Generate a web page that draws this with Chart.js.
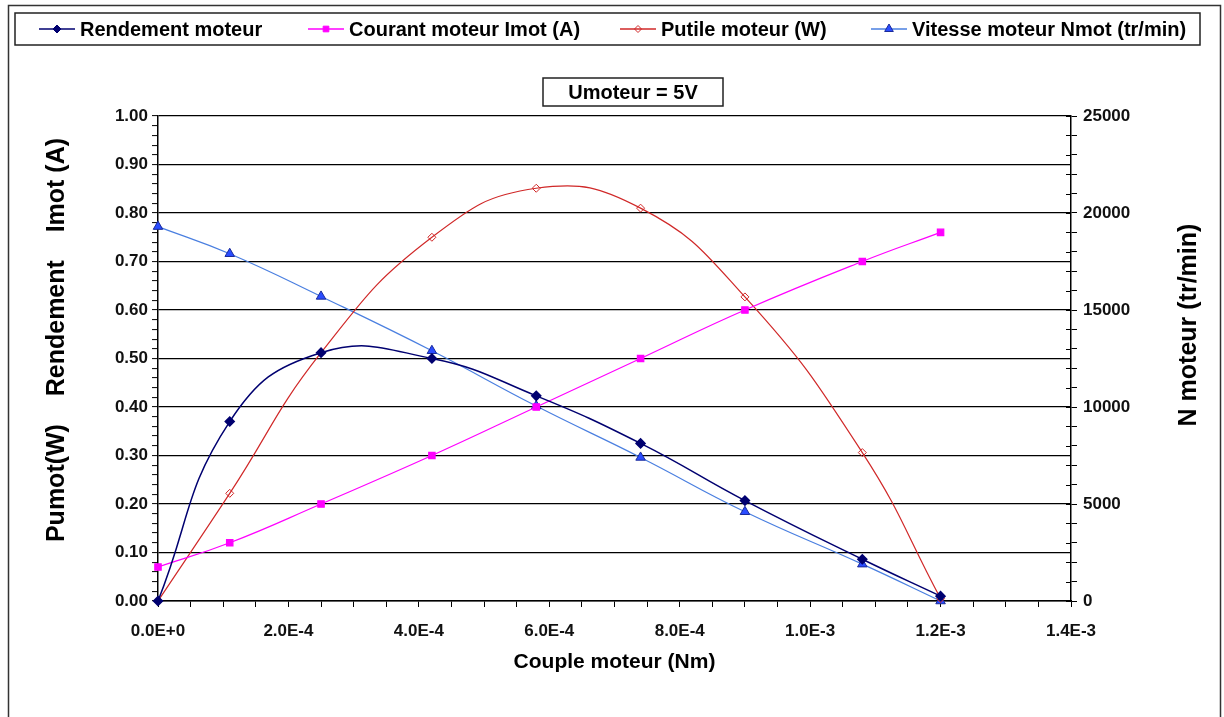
<!DOCTYPE html>
<html>
<head>
<meta charset="utf-8">
<script src="https://cdn.jsdelivr.net/npm/chart.js@4/dist/chart.umd.min.js"></script>
<style>
  html, body { margin: 0; padding: 0; background: #fff; }
  #wrap { position: relative; width: 1224px; height: 717px; }
</style>
</head>
<body>
<div id="wrap"><canvas id="moteurChart" width="1224" height="717"></canvas></div>
<script>
// couple moteur (Nm)
const couple = [0, 1.1e-4, 2.5e-4, 4.2e-4, 5.8e-4, 7.4e-4, 9.0e-4, 1.08e-3, 1.2e-3];
const rendement = [0, 0.37, 0.512, 0.50, 0.423, 0.325, 0.207, 0.086, 0.01];
const courant = [0.07, 0.12, 0.20, 0.30, 0.40, 0.50, 0.60, 0.70, 0.76];
const putile = [0, 0.222, 0.512, 0.75, 0.851, 0.81, 0.627, 0.306, 0.005];
const vitesse = [19300, 17900, 15700, 12900, 10050, 7400, 4600, 1900, 0];

const seriesNames = ['Rendement moteur', 'Courant moteur Imot (A)', 'Putile moteur (W)', 'Vitesse moteur Nmot (tr/min)'];
const chartTitle = 'Umoteur = 5V';
const xTitle = 'Couple moteur (Nm)';
const yLeftTitle = 'Pumot(W)    Rendement    Imot (A)';
const yRightTitle = 'N moteur (tr/min)';

const FONT = '"Liberation Sans", Arial, sans-serif';

function pts(ys) {
    return couple.map((x, i) => ({ x: x, y: ys[i] }));
}

// frame, legend box, title box, rotated axis titles, inner ticks of right axis
const decorPlugin = {
    id: 'decor',
    afterDraw(chart) {
        const ctx = chart.ctx;
        ctx.save();

        // outer frame
        ctx.strokeStyle = '#333';
        ctx.lineWidth = 1.5;
        ctx.strokeRect(8.5, 5.5, 1212, 740);

        // right axis ticks also go inside
        const r = chart.scales.y1;
        ctx.strokeStyle = '#000';
        ctx.lineWidth = 1;
        r.ticks.forEach((t) => {
            const py = Math.round(r.getPixelForValue(t.value)) + 0.5;
            ctx.beginPath();
            ctx.moveTo(r.left - 5, py);
            ctx.lineTo(r.left, py);
            ctx.stroke();
        });

        // legend box
        ctx.strokeStyle = '#222';
        ctx.lineWidth = 1.5;
        ctx.strokeRect(15, 13, 1185, 32);

        const slots = [39, 308, 620, 871];
        ctx.font = 'bold 20px ' + FONT;
        ctx.textBaseline = 'middle';
        ctx.textAlign = 'left';
        chart.data.datasets.forEach((ds, i) => {
            const x0 = slots[i];
            const y = 29;
            ctx.strokeStyle = ds.borderColor;
            ctx.lineWidth = 1.3;
            ctx.beginPath();
            ctx.moveTo(x0, y);
            ctx.lineTo(x0 + 36, y);
            ctx.stroke();
            ctx.fillStyle = ds.pointBackgroundColor;
            ctx.strokeStyle = ds.pointBorderColor;
            ctx.lineWidth = 1;
            Chart.helpers.drawPoint(ctx, {
                pointStyle: ds.pointStyle,
                radius: ds.pointRadius - 0.5,
                rotation: 0,
                borderWidth: 1
            }, x0 + 18, y);
            ctx.fillStyle = '#000';
            ctx.fillText(ds.label, x0 + 41, y + 1);
        });

        // title box
        ctx.strokeStyle = '#222';
        ctx.lineWidth = 1.5;
        ctx.strokeRect(543, 78, 180, 28);
        ctx.fillStyle = '#000';
        ctx.textAlign = 'center';
        ctx.font = 'bold 20px ' + FONT;
        ctx.fillText(chartTitle, 633, 93);

        // vertical axis titles
        ctx.font = 'bold 25px ' + FONT;
        ctx.save();
        ctx.translate(57, 340);
        ctx.rotate(-Math.PI / 2);
        ctx.fillText(yLeftTitle, 0, 0);
        ctx.restore();

        ctx.save();
        ctx.translate(1189, 325);
        ctx.rotate(-Math.PI / 2);
        ctx.fillText(yRightTitle, 0, 0);
        ctx.restore();

        ctx.restore();
    }
};

const tickFont = { family: FONT, size: 17, weight: 'bold' };

new Chart(document.getElementById('moteurChart'), {
    type: 'line',
    data: {
        datasets: [
            {
                label: seriesNames[0],
                data: pts(rendement),
                yAxisID: 'y',
                borderColor: '#000070',
                borderWidth: 1.5,
                pointStyle: 'rectRot',
                pointRadius: 4.5,
                pointBackgroundColor: '#000070',
                pointBorderColor: '#000070',
                tension: 0.45
            },
            {
                label: seriesNames[1],
                data: pts(courant),
                yAxisID: 'y',
                borderColor: '#FF00FF',
                borderWidth: 1.2,
                pointStyle: 'rect',
                pointRadius: 4.5,
                pointBackgroundColor: '#FF00FF',
                pointBorderColor: '#FF00FF',
                tension: 0.45
            },
            {
                label: seriesNames[2],
                data: pts(putile),
                yAxisID: 'y',
                borderColor: '#D02828',
                borderWidth: 1.2,
                pointStyle: 'rectRot',
                pointRadius: 4,
                pointBackgroundColor: 'rgba(255,255,255,0)',
                pointBorderColor: '#D02828',
                pointBorderWidth: 1,
                tension: 0.45
            },
            {
                label: seriesNames[3],
                data: pts(vitesse),
                yAxisID: 'y1',
                borderColor: '#4A7FE0',
                borderWidth: 1.2,
                pointStyle: 'triangle',
                pointRadius: 5.5,
                pointBackgroundColor: '#2a4cff',
                pointBorderColor: '#1A2A9A',
                pointBorderWidth: 1,
                tension: 0.45
            }
        ]
    },
    options: {
        responsive: false,
        devicePixelRatio: 1,
        animation: false,
        clip: false,
        layout: { padding: { top: 116, left: 0, right: 0, bottom: 0 } },
        plugins: {
            legend: { display: false },
            tooltip: { enabled: false }
        },
        scales: {
            x: {
                type: 'linear',
                position: 'bottom',
                min: 0,
                max: 0.0014,
                afterFit: (s) => { s.height = 116; },
                border: { color: '#000', width: 1.5 },
                grid: {
                    drawOnChartArea: false,
                    tickLength: 6,
                    tickColor: '#000'
                },
                ticks: {
                    stepSize: 0.00005,
                    autoSkip: false,
                    maxRotation: 0,
                    padding: 14,
                    color: '#111',
                    font: tickFont,
                    callback: (v) => Math.round(v / 0.00005) % 4 === 0 ? v.toExponential(1).toUpperCase() : ''
                },
                title: {
                    display: true,
                    text: xTitle,
                    color: '#000',
                    font: { family: FONT, size: 21, weight: 'bold' },
                    padding: { top: 0, bottom: 42 }
                }
            },
            y: {
                type: 'linear',
                position: 'left',
                min: 0,
                max: 1,
                afterFit: (s) => { s.width = 158; },
                border: { color: '#000', width: 1.5 },
                grid: {
                    color: (c) => Math.round(c.tick.value * 100) % 10 === 0 ? '#000' : 'rgba(0,0,0,0)',
                    lineWidth: 1.2,
                    tickLength: 6,
                    tickColor: '#000',
                    tickWidth: 1
                },
                ticks: {
                    stepSize: 0.02,
                    autoSkip: false,
                    padding: 4,
                    color: '#111',
                    font: tickFont,
                    callback: (v) => Math.round(v * 100) % 10 === 0 ? v.toFixed(2) : ''
                }
            },
            y1: {
                type: 'linear',
                position: 'right',
                min: 0,
                max: 25000,
                afterFit: (s) => { s.width = 153; },
                border: { color: '#000', width: 1.5 },
                grid: {
                    drawOnChartArea: false,
                    tickLength: 6,
                    tickColor: '#000'
                },
                ticks: {
                    stepSize: 1000,
                    autoSkip: false,
                    padding: 6,
                    color: '#111',
                    font: tickFont,
                    callback: (v) => v % 5000 === 0 ? String(v) : ''
                }
            }
        }
    },
    plugins: [decorPlugin]
});
</script>
</body>
</html>
